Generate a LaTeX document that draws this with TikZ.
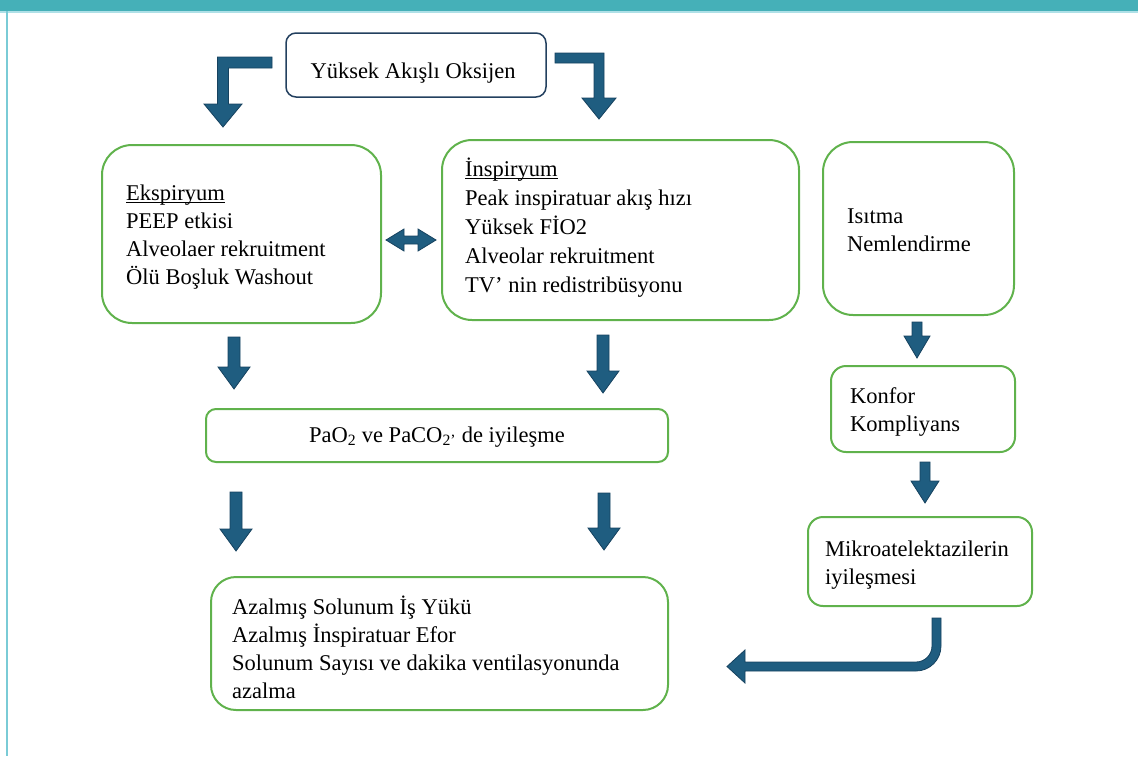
\documentclass[tikz,border=0pt]{standalone}
\usepackage{fontspec}
\setmainfont{Liberation Serif}
\definecolor{headteal}{RGB}{69,176,184}
\definecolor{sideteal}{RGB}{122,203,214}
\definecolor{boxgreen}{RGB}{96,178,76}
\definecolor{topnavy}{RGB}{35,64,95}
\definecolor{arrfill}{RGB}{31,93,128}
\definecolor{arredge}{RGB}{22,66,95}
\newcommand\myul[1]{\setbox0\hbox{#1}\rlap{\rule[-2.6pt]{\wd0}{1.1pt}}\box0}
\newcommand\blockdown[5]{% x, ytop, ybottom, shaft half, head half
  \filldraw[blockarrow] ({#1-#4},#2) -- ({#1+#4},#2) -- ({#1+#4},{#3-22}) -- ({#1+#5},{#3-22})
    -- (#1,#3) -- ({#1-#5},{#3-22}) -- ({#1-#4},{#3-22}) -- cycle;}
\tikzset{
  gbox/.style={draw=boxgreen, line width=2pt, rectangle, inner sep=0pt},
  txt/.style={inner sep=0pt, align=left, font=\fontsize{22.5}{28}\selectfont, text=black},
  blockarrow/.style={fill=arrfill, draw=arredge, line width=0.8pt, line join=miter},
}
\begin{document}
\begin{tikzpicture}[x=1pt,y=-1pt]
\useasboundingbox (0,0) rectangle (1138,756);
% frame
\fill[headteal] (0,0) rectangle (1138,11);
\fill[sideteal!60] (0,11) rectangle (1138,12.5);
\fill[sideteal] (5.5,11) rectangle (8,756);

% top node
\node[draw=topnavy, line width=1.5pt, rounded corners=10pt, minimum width=260pt, minimum height=64pt, inner sep=0pt]
  (top) at (416,65) {};
\node[txt] (topt) at (413,73) {Yüksek Akışlı Oksijen};

% Ekspiryum
\node[gbox, rounded corners=30pt, minimum width=279pt, minimum height=178pt] (eks) at (241.5,234) {};
\node[txt, anchor=west] (ekst) at ([xshift=25pt,yshift=-3pt]eks.west) {\myul{Ekspiryum}\\PEEP etkisi\\Alveolaer rekruitment\\Ölü Boşluk Washout};

% Inspiryum
\node[gbox, rounded corners=30pt, minimum width=357pt, minimum height=180pt] (ins) at (620.5,230) {};
\node[txt, anchor=west, font=\fontsize{22.5}{29}\selectfont] (inst) at ([xshift=24pt,yshift=2pt]ins.west) {\myul{İnspiryum}\\Peak inspiratuar akış hızı\\Yüksek FİO2\\Alveolar rekruitment\\TV’ nin redistribüsyonu};

% Isitma
\node[gbox, rounded corners=30pt, minimum width=191pt, minimum height=173pt] (isi) at (918.5,228.5) {};
\node[txt, anchor=west] (isit) at ([xshift=25pt,yshift=-2pt]isi.west) {Isıtma\\Nemlendirme};

% Konfor
\node[gbox, rounded corners=15pt, minimum width=184pt, minimum height=86pt] (kon) at (923,409) {};
\node[txt, anchor=west] (kont) at ([xshift=20pt,yshift=-3pt]kon.west) {Konfor\\Kompliyans};

% Mikro
\node[gbox, rounded corners=15pt, minimum width=224pt, minimum height=89pt] (mik) at (920,561.5) {};
\node[txt, anchor=west] (mikt) at ([xshift=18pt,yshift=-3.5pt]mik.west) {Mikroatelektazilerin\\iyileşmesi};

% PaO2
\node[gbox, rounded corners=10pt, minimum width=462pt, minimum height=53pt] (pao) at (437,435.5) {};
\node[txt] (paot) at (437,437) {PaO\textsubscript{2} ve PaCO\textsubscript{2’} de iyileşme};

% Azalmis
\node[gbox, rounded corners=25pt, minimum width=457pt, minimum height=133pt] (aza) at (439.5,643.5) {};
\node[txt, anchor=west] (azat) at ([xshift=22pt,yshift=-3.5pt]aza.west) {Azalmış Solunum İş Yükü\\Azalmış İnspiratuar Efor\\Solunum Sayısı ve dakika ventilasyonunda\\azalma};

% elbow arrows from top
\filldraw[blockarrow] (272,57) -- (217.5,57) -- (217.5,104) -- (204,104) -- (223,127) -- (242,104) -- (228.5,104) -- (228.5,68) -- (272,68) -- cycle;
\filldraw[blockarrow] (555,53) -- (604,53) -- (604,98) -- (616,98) -- (599,119) -- (582,98) -- (594,98) -- (594,63) -- (555,63) -- cycle;

% double arrow
\filldraw[blockarrow] (386,240) -- (404,229) -- (404,236) -- (418,236) -- (418,229) -- (436,240) -- (418,251) -- (418,244) -- (404,244) -- (404,251) -- cycle;

% down arrows
\blockdown{234}{337}{389}{6}{16}
\blockdown{603}{335}{393}{6}{16}
\blockdown{236}{492}{551}{6}{16}
\blockdown{604}{493}{550}{6}{16}
\blockdown{917}{322}{358}{5}{13}
\blockdown{925}{462}{503}{5}{14}

% curved arrow
\filldraw[blockarrow] (932,618) -- (941,618) -- (941,646) .. controls (941,659.8) and (929.8,671) .. (916,671)
  -- (745,671) -- (745,683) -- (727,666.5) -- (745,650) -- (745,662) -- (916,662)
  .. controls (924.8,662) and (932,654.8) .. (932,646) -- cycle;
\end{tikzpicture}
\end{document}
